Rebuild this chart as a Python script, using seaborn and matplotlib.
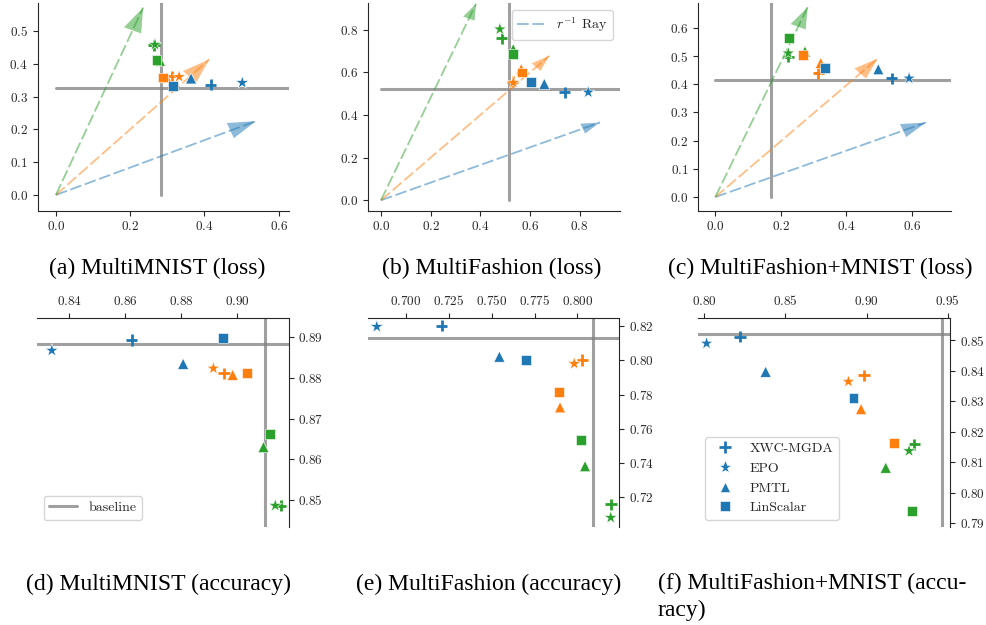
import matplotlib
matplotlib.use("Agg")
import matplotlib.pyplot as plt
import matplotlib.ticker as mticker
import seaborn as sns
import pandas as pd
import numpy as np
from matplotlib.lines import Line2D

# ---------------- data ----------------
methods = ["XWC-MGDA", "EPO", "PMTL", "LinScalar"]
prefs = ["r1", "r2", "r3"]          # blue, orange, green preference rays
colors = ["#1f77b4", "#ff7f0e", "#2ca02c"]

# (a) MultiMNIST (loss): x = loss task 1, y = loss task 2 ; order = [blue, orange, green]
a_xwc_x = [0.417, 0.314, 0.264]; a_xwc_y = [0.336, 0.362, 0.456]
a_epo_x = [0.502, 0.332, 0.267]; a_epo_y = [0.342, 0.360, 0.458]
a_pmtl_x = [0.364, 0.298, 0.280]; a_pmtl_y = [0.355, 0.358, 0.409]
a_lin_x = [0.316, 0.289, 0.271]; a_lin_y = [0.332, 0.358, 0.411]
a_base = [0.282, 0.3266]
a_rays_x = [0.539, 0.413, 0.235]; a_rays_y = [0.225, 0.413, 0.571]

# (b) MultiFashion (loss)
b_xwc_x = [0.741, 0.530, 0.486]; b_xwc_y = [0.507, 0.557, 0.760]
b_epo_x = [0.835, 0.533, 0.479]; b_epo_y = [0.507, 0.552, 0.803]
b_pmtl_x = [0.658, 0.565, 0.533]; b_pmtl_y = [0.546, 0.615, 0.709]
b_lin_x = [0.605, 0.568, 0.533]; b_lin_y = [0.557, 0.600, 0.685]
b_base = [0.517, 0.524]
b_rays_x = [0.882, 0.678, 0.383]; b_rays_y = [0.365, 0.678, 0.922]

# (c) MultiFashion+MNIST (loss)
c_xwc_x = [0.539, 0.315, 0.223]; c_xwc_y = [0.421, 0.439, 0.498]
c_epo_x = [0.592, 0.335, 0.223]; c_epo_y = [0.421, 0.454, 0.510]
c_pmtl_x = [0.498, 0.322, 0.274]; c_pmtl_y = [0.453, 0.475, 0.516]
c_lin_x = [0.335, 0.267, 0.225]; c_lin_y = [0.458, 0.504, 0.563]
c_base = [0.169, 0.414]
c_rays_x = [0.643, 0.496, 0.282]; c_rays_y = [0.264, 0.491, 0.673]

# (d) MultiMNIST (accuracy)
d_xwc_x = [0.8623, 0.8952, 0.9155]; d_xwc_y = [0.8894, 0.8812, 0.8486]
d_epo_x = [0.8337, 0.8914, 0.9135]; d_epo_y = [0.8868, 0.8824, 0.8486]
d_pmtl_x = [0.8806, 0.8983, 0.9093]; d_pmtl_y = [0.8835, 0.8808, 0.8630]
d_lin_x = [0.8948, 0.9033, 0.9117]; d_lin_y = [0.8898, 0.8812, 0.8663]
d_base = [0.9098, 0.8884]

# (e) MultiFashion (accuracy)
e_xwc_x = [0.7208, 0.8029, 0.8197]; e_xwc_y = [0.8202, 0.8002, 0.7159]
e_epo_x = [0.6829, 0.7982, 0.8195]; e_epo_y = [0.8196, 0.7980, 0.7081]
e_pmtl_x = [0.7545, 0.7899, 0.8045]; e_pmtl_y = [0.8021, 0.7725, 0.7381]
e_lin_x = [0.7700, 0.7893, 0.8019]; e_lin_y = [0.8002, 0.7817, 0.7535]
e_base = [0.8093, 0.8128]

# (f) MultiFashion+MNIST (accuracy)
f_xwc_x = [0.8220, 0.8984, 0.9294]; f_xwc_y = [0.8511, 0.8385, 0.8159]
f_epo_x = [0.8014, 0.8888, 0.9262]; f_epo_y = [0.8489, 0.8364, 0.8137]
f_pmtl_x = [0.8378, 0.8966, 0.9118]; f_pmtl_y = [0.8396, 0.8274, 0.8082]
f_lin_x = [0.8920, 0.9167, 0.9282]; f_lin_y = [0.8309, 0.8164, 0.7940]
f_base = [0.9463, 0.8521]

captions = ["(a) MultiMNIST (loss)", "(b) MultiFashion (loss)",
            "(c) MultiFashion+MNIST (loss)", "(d) MultiMNIST (accuracy)",
            "(e) MultiFashion (accuracy)", "(f) MultiFashion+MNIST (accu-", "racy)"]

# ---------------- style ----------------
sns.set_style("ticks")
plt.rcParams["font.family"] = ["cmr10", "DejaVu Serif"]
plt.rcParams["mathtext.fontset"] = "cm"
plt.rcParams["mathtext.rm"] = "cmr10"
plt.rcParams["axes.unicode_minus"] = False
plt.rcParams["xtick.labelsize"] = 9.5
plt.rcParams["ytick.labelsize"] = 9.5

marker_map = {"XWC-MGDA": "+", "EPO": "*", "PMTL": "^", "LinScalar": "s"}
size_map = {"XWC-MGDA": 65, "EPO": 95, "PMTL": 62, "LinScalar": 50}
palette = dict(zip(prefs, colors))
BASE_KW = dict(color="gray", lw=2.2, alpha=0.75)
LEG_PROP = dict(family="cmr10", size=10)

W, H = 987, 625
fig = plt.figure(figsize=(W / 100, H / 100), dpi=100)


def add_ax(l, t, r, b):
    return fig.add_axes([l / W, 1 - b / H, (r - l) / W, (b - t) / H])


def fmt(nd):
    return mticker.FuncFormatter(lambda v, p: "$%.*f$" % (nd, v))


def make_df(series):
    rows = []
    for m, (xs, ys) in zip(methods, series):
        for p, x, y in zip(prefs, xs, ys):
            rows.append(dict(method=m, pref=p, x=x, y=y))
    return pd.DataFrame(rows)


def scatter(ax, df):
    for m in methods:
        sub = df[df.method == m]
        if marker_map[m] == "+":
            sns.scatterplot(data=sub, x="x", y="y", hue="pref", palette=palette,
                            marker="+", s=size_map[m], linewidth=2.0,
                            legend=False, ax=ax, zorder=4)
        else:
            sns.scatterplot(data=sub, x="x", y="y", hue="pref", palette=palette,
                            marker=marker_map[m], s=size_map[m], linewidth=0.4,
                            legend=False, ax=ax, zorder=4)
    ax.set_xlabel("")
    ax.set_ylabel("")


def loss_panel(ax, series, base, rx, ry, xlim, ylim, xt, yt, xd, yd):
    scatter(ax, make_df(series))
    ax.plot([0, 10], [base[1], base[1]], zorder=2, **BASE_KW)
    ax.plot([base[0], base[0]], [0, 10], zorder=2, **BASE_KW)
    hl, hw = 0.075, 0.05
    for c, tx, ty in zip(colors, rx, ry):
        ax.plot([0, tx], [0, ty], color=c, alpha=0.5, lw=1.3,
                dashes=(6.5, 2.0), zorder=3)
        L = np.hypot(tx, ty)
        ux, uy = tx / L, ty / L
        ax.arrow(tx - hl * ux, ty - hl * uy, hl * ux, hl * uy, width=0.0,
                 head_width=hw, head_length=hl, length_includes_head=True,
                 fc=c, ec="none", lw=0, alpha=0.5, zorder=3)
    ax.set_xlim(*xlim)
    ax.set_ylim(*ylim)
    ax.set_xticks(xt)
    ax.set_yticks(yt)
    ax.xaxis.set_major_formatter(fmt(xd))
    ax.yaxis.set_major_formatter(fmt(yd))
    sns.despine(ax=ax)


def acc_panel(ax, series, base, xlim, ylim, xt, yt, xd, yd):
    scatter(ax, make_df(series))
    ax.axhline(base[1], zorder=2, **BASE_KW)
    ax.axvline(base[0], zorder=2, **BASE_KW)
    ax.set_xlim(*xlim)
    ax.set_ylim(*ylim)
    ax.set_xticks(xt)
    ax.set_yticks(yt)
    ax.xaxis.set_major_formatter(fmt(xd))
    ax.yaxis.set_major_formatter(fmt(yd))
    sns.despine(ax=ax, left=True, bottom=True, top=False, right=False)
    ax.xaxis.tick_top()
    ax.yaxis.tick_right()


# top row
ax_a = add_ax(37.7, 3, 288.7, 210.7)
loss_panel(ax_a, [(a_xwc_x, a_xwc_y), (a_epo_x, a_epo_y), (a_pmtl_x, a_pmtl_y), (a_lin_x, a_lin_y)],
           a_base, a_rays_x, a_rays_y, (-0.049, 0.627), (-0.048, 0.585),
           [0.0, 0.2, 0.4, 0.6], [0.0, 0.1, 0.2, 0.3, 0.4, 0.5], 1, 1)

ax_b = add_ax(368.3, 3, 620, 210.7)
loss_panel(ax_b, [(b_xwc_x, b_xwc_y), (b_epo_x, b_epo_y), (b_pmtl_x, b_pmtl_y), (b_lin_x, b_lin_y)],
           b_base, b_rays_x, b_rays_y, (-0.051, 0.963), (-0.049, 0.926),
           [0.0, 0.2, 0.4, 0.6, 0.8], [0.0, 0.2, 0.4, 0.6, 0.8], 1, 1)
ray_handle = Line2D([], [], color=colors[0], alpha=0.5, lw=1.3, dashes=(6.5, 2.0))
ax_b.legend([ray_handle], [r"$r^{-1}$ Ray"], loc="upper right", prop=LEG_PROP)

ax_c = add_ax(698.3, 3, 951, 210.7)
loss_panel(ax_c, [(c_xwc_x, c_xwc_y), (c_epo_x, c_epo_y), (c_pmtl_x, c_pmtl_y), (c_lin_x, c_lin_y)],
           c_base, c_rays_x, c_rays_y, (-0.052, 0.72), (-0.0485, 0.688),
           [0.0, 0.2, 0.4, 0.6], [0.0, 0.1, 0.2, 0.3, 0.4, 0.5, 0.6], 1, 1)

# bottom row
ax_d = add_ax(36.7, 318, 288.7, 526.7)
acc_panel(ax_d, [(d_xwc_x, d_xwc_y), (d_epo_x, d_epo_y), (d_pmtl_x, d_pmtl_y), (d_lin_x, d_lin_y)],
          d_base, (0.8283, 0.9183), (0.8434, 0.8948),
          [0.84, 0.86, 0.88, 0.90], [0.85, 0.86, 0.87, 0.88, 0.89], 2, 2)
base_handle = Line2D([], [], **BASE_KW)
ax_d.legend([base_handle], ["baseline"], loc="lower left", prop=LEG_PROP)

ax_e = add_ax(367.7, 318, 619.3, 526.7)
acc_panel(ax_e, [(e_xwc_x, e_xwc_y), (e_epo_x, e_epo_y), (e_pmtl_x, e_pmtl_y), (e_lin_x, e_lin_y)],
          e_base, (0.6776, 0.8245), (0.7028, 0.8247),
          [0.700, 0.725, 0.750, 0.775, 0.800], [0.72, 0.74, 0.76, 0.78, 0.80, 0.82], 3, 2)

ax_f = add_ax(698.3, 318, 950.3, 526.7)
acc_panel(ax_f, [(f_xwc_x, f_xwc_y), (f_epo_x, f_epo_y), (f_pmtl_x, f_pmtl_y), (f_lin_x, f_lin_y)],
          f_base, (0.7963, 0.9516), (0.7889, 0.8572),
          [0.80, 0.85, 0.90, 0.95], [0.79, 0.80, 0.81, 0.82, 0.83, 0.84, 0.85], 2, 2)
mk_handles = []
for m in methods:
    if m == "XWC-MGDA":
        h = Line2D([], [], ls="none", marker="+", color=colors[0], markersize=9, mew=2)
    else:
        h = Line2D([], [], ls="none", marker=marker_map[m], color=colors[0],
                   markersize=np.sqrt(size_map[m]), mew=0.4, mec="white")
    mk_handles.append(h)
ax_f.legend(mk_handles, methods, loc="lower left", prop=LEG_PROP)

# captions
cap_kw = dict(family="Liberation Serif", fontsize=17, va="center", color="black")
cap_pos = [(157.5, 268, "center"), (492, 268, "center"), (820.5, 268, "center"),
           (158.5, 584, "center"), (488.5, 584, "center"), (658, 583, "left"), (658, 610, "left")]
for txt, (x, y, ha) in zip(captions, cap_pos):
    fig.text(x / W, 1 - y / H, txt, ha=ha, **cap_kw)

fig.savefig("out.png", dpi=100)
